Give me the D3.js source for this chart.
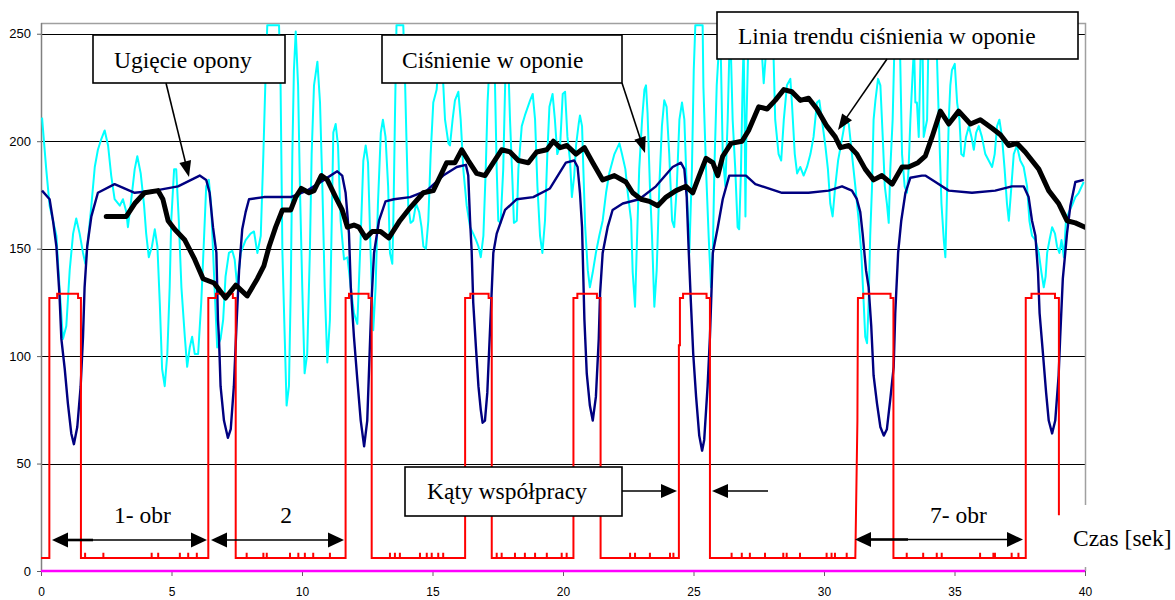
<!DOCTYPE html>
<html><head><meta charset="utf-8">
<script src="https://cdn.jsdelivr.net/npm/d3@7"></script>
<style>body{margin:0;background:#fff}svg{display:block}</style>
</head><body>
<svg id="c" width="1175" height="600"></svg>
<script>
// ---------- DATA ----------
const xTicks = [0,5,10,15,20,25,30,35,40];
const yTicks = [0,50,100,150,200,250];

// Ciśnienie w oponie (cyan)
const pressure = [
[0.04,211],[0.2,187],[0.33,170],[0.46,163],[0.59,156],[0.71,132],[0.84,108],[0.97,114],[1.1,140],[1.23,157],
[1.35,164],[1.48,157],[1.61,148],[1.7,143],[1.8,154],[1.93,170],[2.06,188],[2.18,196],[2.31,201],[2.44,205],
[2.57,198],[2.69,184],[2.82,173],[3.02,170],[3.14,173],[3.27,167],[3.33,160],[3.46,173],[3.59,187],[3.69,193],
[3.82,185],[3.95,170],[4.03,157],[4.13,146],[4.25,151],[4.36,159],[4.46,151],[4.55,125],[4.64,94],[4.74,86],
[4.84,101],[4.93,132],[4.99,163],[5.1,187],[5.18,187],[5.28,163],[5.38,132],[5.51,109],[5.6,95],[5.7,104],
[5.79,109],[5.89,101],[6.02,101],[6.14,125],[6.25,156],[6.33,179],[6.43,182],[6.52,170],[6.65,132],[6.75,104],
[6.88,108],[6.98,117],[7.07,137],[7.2,148],[7.33,149],[7.42,145],[7.52,132],[7.65,148],[7.84,154],[8.03,157],
[8.16,158],[8.29,148],[8.42,156],[8.52,194],[8.61,233],[8.67,254],[9.12,254],[9.18,225],[9.25,148],[9.34,108],
[9.41,77],[9.5,86],[9.57,132],[9.63,194],[9.69,233],[9.76,251],[9.85,226],[9.92,179],[10.01,132],[10.1,92],
[10.2,101],[10.3,148],[10.37,194],[10.46,226],[10.59,237],[10.69,218],[10.78,179],[10.87,132],[10.97,97],[11.07,117],
[11.14,163],[11.2,204],[11.29,208],[11.38,198],[11.48,163],[11.61,145],[11.74,146],[11.87,132],[11.99,120],[12.12,115],
[12.25,156],[12.35,191],[12.44,198],[12.53,190],[12.63,148],[12.73,112],[12.82,132],[12.91,171],[13.02,204],[13.1,210],
[13.2,202],[13.3,179],[13.37,148],[13.46,143],[13.5,163],[13.56,210],[13.62,254],[13.88,254],[13.95,227],[14.0,202],
[14.07,170],[14.16,162],[14.26,163],[14.37,171],[14.49,167],[14.58,160],[14.65,151],[14.75,150],[14.84,163],[14.93,194],
[15.03,218],[15.16,224],[15.25,240],[15.35,240],[15.41,227],[15.48,210],[15.61,199],[15.67,198],[15.77,210],[15.86,219],
[15.99,223],[16.08,210],[16.18,187],[16.31,170],[16.44,160],[16.56,157],[16.67,154],[16.76,151],[16.85,146],[16.95,156],
[17.04,187],[17.11,218],[17.2,240],[17.38,235],[17.46,187],[17.52,163],[17.61,162],[17.71,187],[17.8,235],[17.92,230],
[17.97,210],[18.07,179],[18.12,162],[18.23,163],[18.29,187],[18.42,207],[18.54,212],[18.74,219],[18.84,222],[18.93,210],
[19.02,179],[19.12,156],[19.21,148],[19.31,163],[19.4,194],[19.48,216],[19.6,222],[19.69,210],[19.78,194],[19.89,198],
[19.99,222],[20.08,223],[20.17,202],[20.27,191],[20.34,174],[20.43,184],[20.5,198],[20.6,208],[20.65,212],[20.73,207],
[20.78,187],[20.85,160],[20.95,140],[21.03,132],[21.14,139],[21.26,148],[21.39,156],[21.52,163],[21.65,176],[21.77,185],
[21.97,194],[22.16,199],[22.26,194],[22.39,187],[22.48,176],[22.61,163],[22.67,139],[22.76,123],[22.82,148],[22.92,187],
[23.03,210],[23.12,224],[23.18,226],[23.24,213],[23.33,179],[23.41,156],[23.5,123],[23.59,140],[23.69,179],[23.79,207],
[23.88,219],[23.97,216],[24.07,194],[24.18,163],[24.26,160],[24.36,179],[24.46,210],[24.56,218],[24.65,210],[24.74,179],
[24.84,148],[24.94,187],[25.01,233],[25.07,254],[25.35,254],[25.38,225],[25.48,187],[25.58,156],[25.67,132],[25.74,148],
[25.8,187],[25.89,226],[25.98,245],[26.05,238],[26.12,194],[26.22,179],[26.31,210],[26.38,245],[26.44,238],[26.5,210],
[26.6,187],[26.69,160],[26.75,159],[26.82,187],[26.88,226],[26.92,245],[26.96,210],[26.99,165],[27.03,210],[27.1,245],
[27.6,245],[27.69,227],[27.8,245],[28.0,245],[28.07,238],[28.13,210],[28.26,194],[28.36,191],[28.46,210],[28.58,226],
[28.71,229],[28.77,218],[28.88,194],[28.97,185],[29.09,188],[29.22,184],[29.35,188],[29.48,194],[29.6,202],[29.73,218],
[29.82,219],[29.92,210],[30.05,198],[30.15,187],[30.24,171],[30.33,165],[30.43,179],[30.54,191],[30.66,199],[30.82,210],
[30.95,208],[31.07,194],[31.2,179],[31.33,163],[31.43,148],[31.52,125],[31.58,109],[31.65,106],[31.71,125],[31.77,156],
[31.84,179],[31.9,210],[31.97,219],[32.07,229],[32.16,226],[32.25,202],[32.33,179],[32.41,171],[32.48,162],[32.54,187],
[32.63,210],[32.7,245],[32.85,245],[32.92,238],[32.99,194],[33.09,179],[33.18,176],[33.24,187],[33.31,210],[33.45,245],
[33.5,218],[33.56,218],[33.63,202],[33.7,240],[33.78,240],[33.82,202],[33.95,210],[34.0,245],[34.3,245],[34.33,238],
[34.4,210],[34.5,171],[34.59,154],[34.65,146],[34.72,179],[34.78,210],[34.84,226],[34.9,233],[35.01,236],[35.1,218],
[35.19,210],[35.26,194],[35.35,193],[35.44,202],[35.55,207],[35.65,202],[35.74,196],[35.83,204],[35.93,207],[36.05,202],
[36.18,194],[36.31,191],[36.44,188],[36.54,194],[36.63,207],[36.72,210],[36.82,202],[36.92,187],[37.01,171],[37.08,163],
[37.18,179],[37.27,194],[37.39,198],[37.52,191],[37.65,188],[37.78,179],[37.87,163],[37.97,156],[38.1,154],[38.23,148],
[38.33,139],[38.42,132],[38.49,137],[38.55,148],[38.64,154],[38.74,160],[38.85,157],[38.93,151],[39.02,148],[39.1,154],
[39.19,146],[39.27,163],[39.38,167],[39.5,170],[39.63,174],[39.76,176],[39.95,181]
];

// Ugięcie opony (navy)
const deflection = [
[0.04,177],[0.33,173],[0.46,163],[0.59,151],[0.71,128],[0.78,108],[0.91,94],[1.03,78],[1.16,64],[1.26,59],
[1.39,67],[1.52,86],[1.61,109],[1.67,132],[1.77,151],[1.93,165],[2.18,176],[2.82,180],[3.59,176],[4.36,177],
[5.25,179],[6.08,184],[6.33,182],[6.46,176],[6.59,160],[6.72,148],[6.78,117],[6.82,108],[6.88,86],[7.01,70],
[7.16,62],[7.27,66],[7.39,86],[7.5,117],[7.59,140],[7.71,159],[7.84,167],[7.97,173],[8.54,174],[9.57,174],
[10.2,177],[10.84,182],[11.35,186],[11.54,184],[11.67,176],[11.8,157],[11.87,132],[11.99,109],[12.12,89],[12.25,70],
[12.38,58],[12.5,70],[12.59,101],[12.66,125],[12.76,148],[12.95,163],[13.2,172],[13.52,173],[14.14,174],[14.78,177],
[15.41,184],[15.93,188],[16.28,189],[16.37,184],[16.44,163],[16.5,149],[16.56,125],[16.67,103],[16.76,86],[16.85,75],
[16.92,69],[17.01,70],[17.1,83],[17.16,100],[17.24,122],[17.33,148],[17.46,157],[17.78,168],[18.23,173],[18.86,174],
[19.5,178],[20.11,190],[20.43,191],[20.56,188],[20.65,176],[20.73,160],[20.82,117],[20.91,92],[21.03,77],[21.14,70],
[21.26,81],[21.37,108],[21.42,129],[21.52,148],[21.71,160],[21.9,168],[22.29,171],[22.92,173],[23.56,179],[24.2,188],
[24.52,190],[24.65,187],[24.74,174],[24.82,148],[24.9,125],[24.99,101],[25.1,81],[25.22,63],[25.33,56],[25.41,61],
[25.54,86],[25.63,109],[25.74,148],[25.93,160],[26.12,173],[26.37,184],[27.01,184],[27.37,180],[28.39,176],[29.41,176],
[30.18,177],[30.69,179],[31.07,177],[31.26,173],[31.39,167],[31.48,157],[31.61,140],[31.71,132],[31.81,114],[31.9,91],
[32.03,78],[32.16,67],[32.29,63],[32.41,66],[32.54,80],[32.67,95],[32.73,120],[32.84,148],[32.96,163],[33.12,176],
[33.31,183],[33.75,184],[33.88,184],[34.27,181],[34.78,177],[35.67,176],[36.56,177],[37.2,179],[37.65,179],[37.84,174],
[37.97,163],[38.1,156],[38.2,139],[38.26,120],[38.39,101],[38.51,83],[38.61,70],[38.74,64],[38.86,70],[38.99,91],
[39.05,109],[39.15,136],[39.22,145],[39.31,157],[39.44,170],[39.63,181],[39.95,182]
];

// Linia trendu ciśnienia w oponie (black)
const trend = [
[2.5,165],[3.27,165],[3.59,171],[3.97,176],[4.48,177],[4.67,173],[4.87,163],[5.12,159],[5.51,154],[5.89,145],
[6.21,136],[6.63,134],[7.07,127],[7.46,133],[7.9,128],[8.29,136],[8.54,142],[8.74,151],[8.99,160],[9.25,168],
[9.57,168],[9.76,174],[9.97,178],[10.27,176],[10.46,177],[10.74,184],[10.97,182],[11.29,174],[11.54,168],[11.74,160],
[11.99,161],[12.18,160],[12.44,155],[12.69,158],[13.01,158],[13.33,155],[13.75,163],[14.14,169],[14.65,176],[15.03,177],
[15.35,185],[15.54,190],[15.86,190],[16.12,196],[16.37,191],[16.69,185],[17.01,184],[17.33,190],[17.65,196],[17.97,195],
[18.29,191],[18.67,190],[18.99,195],[19.38,196],[19.63,200],[19.89,197],[20.15,198],[20.5,194],[20.82,197],[21.14,190],
[21.52,182],[21.97,184],[22.41,181],[22.67,176],[22.99,173],[23.31,172],[23.63,170],[23.95,174],[24.33,177],[24.71,179],
[24.97,176],[25.22,184],[25.48,192],[25.74,190],[25.93,184],[26.12,193],[26.44,199],[26.86,200],[27.11,205],[27.5,216],
[27.82,215],[28.13,219],[28.46,224],[28.77,223],[29.09,219],[29.41,220],[29.73,215],[30.11,207],[30.43,202],[30.63,197],
[30.95,198],[31.26,194],[31.58,187],[31.9,182],[32.22,184],[32.61,180],[32.99,188],[33.24,188],[33.6,190],[33.88,193],
[34.14,202],[34.46,214],[34.78,208],[35.16,214],[35.61,208],[35.99,210],[36.44,206],[36.76,203],[37.08,198],[37.39,199],
[37.71,195],[38.23,187],[38.61,177],[38.99,171],[39.31,163],[39.63,162],[40.0,160]
];

// Kąty współpracy (red)
const angles = [
[0,6],[0.32,6],[0.32,127],[0.62,127],[0.62,129],[1.42,129],[1.42,127],[1.53,127],[1.53,6],
[6.41,6],[6.41,127],[6.7,127],[6.7,129],[7.35,129],[7.35,127],[7.46,127],[7.46,6],
[11.67,6],[11.67,127],[11.8,127],[11.8,129],[12.55,129],[12.55,127],[12.67,127],[12.67,6],
[16.25,6],[16.25,127],[16.45,127],[16.45,129],[17.15,129],[17.15,127],[17.27,127],[17.27,6],
[20.4,6],[20.4,127],[20.55,127],[20.55,129],[21.3,129],[21.3,127],[21.44,127],[21.44,6],
[24.44,6],[24.44,105],[24.48,105],[24.48,127],[24.6,127],[24.6,129],[25.5,129],[25.5,127],[25.63,127],[25.63,6],
[31.2,6],[31.28,70],[31.3,127],[31.5,127],[31.5,129],[32.55,129],[32.55,127],[32.66,127],[32.66,6],
[37.73,6],[37.73,127],[37.95,127],[37.95,129],[38.85,129],[38.85,127],[39.0,127],[39.0,26]
];
const angleSpikes = [1.69,2.39,4.24,4.49,5.32,5.64,5.97,7.88,8.52,8.65,9.54,9.86,10.11,10.43,11.07,
13.37,13.56,13.75,14.52,14.78,14.97,15.22,15.41,17.46,17.65,18.16,18.54,18.93,19.38,19.95,20.14,
22.57,22.76,23.33,24.1,24.23,26.46,26.85,27.16,27.74,28.44,28.57,29.08,30.1,30.29,30.42,30.87,
33.17,33.8,34.32,34.51,35.98,36.49,36.55,37.19,37.45];
const spikeTop = 8.5;

// magenta series at zero
const baseline = [[0,0],[40,0]];

// ---------- LAYOUT ----------
const svg = d3.select("#c");
const P = {left:41, right:1085, top:23, bottom:571};
const x = d3.scaleLinear().domain([0,40]).range([P.left,P.right]);
const y = d3.scaleLinear().domain([0,255]).range([P.bottom,P.top]);
const line = d3.line().x(d=>x(d[0])).y(d=>y(d[1]));

svg.append("defs").append("clipPath").attr("id","clip")
  .append("rect").attr("x",P.left).attr("y",P.top).attr("width",P.right-P.left).attr("height",P.bottom-P.top);

// gridlines
svg.append("g").selectAll("line").data(yTicks.filter(v=>v>0)).join("line")
  .attr("x1",P.left).attr("x2",P.right).attr("y1",d=>Math.round(y(d))+0.5).attr("y2",d=>Math.round(y(d))+0.5)
  .attr("stroke","#000").attr("stroke-width",1);

// frame
svg.append("path").attr("d",`M${P.left},${P.top+0.5}H${P.right+0.5}V${P.bottom}`)
  .attr("fill","none").attr("stroke","#a0a0a0").attr("stroke-width",1.5);
svg.append("line").attr("x1",P.left+0.5).attr("x2",P.left+0.5).attr("y1",P.top).attr("y2",P.bottom)
  .attr("stroke","#808080").attr("stroke-width",1.5);

// axes
const ax = svg.append("g").attr("transform",`translate(0,${P.bottom})`)
  .call(d3.axisBottom(x).tickValues(xTicks).tickSize(5).tickPadding(11).tickFormat(d3.format("d")));
ax.select(".domain").remove();
ax.selectAll("line").attr("stroke","#606060");
ax.selectAll("text").attr("font-family","Liberation Sans, Arial").attr("font-size",12).attr("fill","#000");

const ay = svg.append("g").attr("transform",`translate(${P.left},0)`)
  .call(d3.axisLeft(y).tickValues(yTicks).tickSize(4).tickPadding(6));
ay.select(".domain").remove();
ay.selectAll("line").attr("stroke","#606060");
ay.selectAll("text").attr("font-family","Liberation Sans, Arial").attr("font-size",13).attr("fill","#000");

// series
const g = svg.append("g").attr("clip-path","url(#clip)");
g.append("path").datum(pressure).attr("d",line).attr("fill","none")
  .attr("stroke","#00ffff").attr("stroke-width",2).attr("stroke-linejoin","round");
g.append("path").datum(deflection).attr("d",line).attr("fill","none")
  .attr("stroke","#000080").attr("stroke-width",2.4).attr("stroke-linejoin","round");

// red with spikes
const red = [];
angles.forEach((p,i)=>{
  red.push(p);
  const n = angles[i+1];
  if(n && p[1]===6 && n[1]===6){
    angleSpikes.filter(s=>s>p[0]&&s<n[0]).forEach(s=>{ red.push([s,6],[s,spikeTop],[s,6]); });
  }
});
g.append("path").datum(red).attr("d",line).attr("fill","none")
  .attr("stroke","#ff0000").attr("stroke-width",2).attr("stroke-linejoin","miter");
svg.append("path").datum(baseline).attr("d",line).attr("fill","none")
  .attr("stroke","#ff00ff").attr("stroke-width",2.5);
g.append("path").datum(trend).attr("d",line).attr("fill","none")
  .attr("stroke","#000").attr("stroke-width",5).attr("stroke-linejoin","round").attr("stroke-linecap","round");

// ---------- ANNOTATIONS ----------
const serif = "Liberation Serif, Times New Roman, serif";
const boxes = [
  {x:93, y:35, w:192, h:48, text:"Ugięcie opony", tx:114, ty:68},
  {x:382, y:35, w:240, h:48, text:"Ciśnienie w oponie", tx:402, ty:68},
  {x:717, y:12, w:361, h:47, text:"Linia trendu ciśnienia w oponie", tx:738, ty:44},
  {x:405, y:467, w:217, h:49, text:"Kąty współpracy", tx:427, ty:499}
];
const ann = svg.append("g");
ann.append("rect").attr("x",1068).attr("y",505).attr("width",107).attr("height",62).attr("fill","#fff");
ann.append("text").attr("x",1073).attr("y",546).attr("font-family",serif).attr("font-size",23.5).text("Czas [sek]");

boxes.forEach(b=>{
  ann.append("rect").attr("x",b.x).attr("y",b.y).attr("width",b.w).attr("height",b.h)
    .attr("fill","#fff").attr("stroke","#000").attr("stroke-width",1.6);
  ann.append("text").attr("x",b.tx).attr("y",b.ty).attr("font-family",serif).attr("font-size",23.5).text(b.text);
});

function arrowHead(x1,y1,x2,y2,len,wid){
  const a=Math.atan2(y2-y1,x2-x1), c=Math.cos(a), s=Math.sin(a);
  const bx=x2-len*c, by=y2-len*s;
  ann.append("path").attr("d",`M${x2},${y2}L${bx-wid/2*s},${by+wid/2*c}L${bx+wid/2*s},${by-wid/2*c}Z`).attr("fill","#000");
  return [bx,by];
}
function arrow(x1,y1,x2,y2,w,len,wid){
  const a=Math.atan2(y2-y1,x2-x1);
  const bx=x2-(len-1)*Math.cos(a), by=y2-(len-1)*Math.sin(a);
  ann.append("line").attr("x1",x1).attr("y1",y1).attr("x2",bx).attr("y2",by).attr("stroke","#000").attr("stroke-width",w);
  arrowHead(x1,y1,x2,y2,len,wid);
}
arrow(166,83,189,177,1.6,16,12);
arrow(622,83,645,153,1.6,16,12);
arrow(887,59,838,130,1.6,16,12);
arrow(622,491,677,491,1.6,16,14);
arrow(768,491,712,491,1.6,16,14);

function dbl(xa,xb,yy,thickTo){
  ann.append("line").attr("x1",xa+14).attr("x2",xb-14).attr("y1",yy).attr("y2",yy).attr("stroke","#000").attr("stroke-width",1.3);
  if(thickTo) ann.append("line").attr("x1",xa+14).attr("x2",thickTo).attr("y1",yy).attr("y2",yy).attr("stroke","#000").attr("stroke-width",2.6);
  arrowHead(xb,yy,xa,yy,16,15);
  arrowHead(xa,yy,xb,yy,16,15);
}
dbl(52,207,540,93);
dbl(211,344,540,null);
dbl(855,1023,539.5,908);
ann.append("text").attr("x",114).attr("y",523).attr("font-family",serif).attr("font-size",23.5).text("1- obr");
ann.append("text").attr("x",286).attr("y",523).attr("text-anchor","middle").attr("font-family",serif).attr("font-size",23.5).text("2");
ann.append("text").attr("x",930).attr("y",523).attr("font-family",serif).attr("font-size",23.5).text("7- obr");
</script>
</body></html>
